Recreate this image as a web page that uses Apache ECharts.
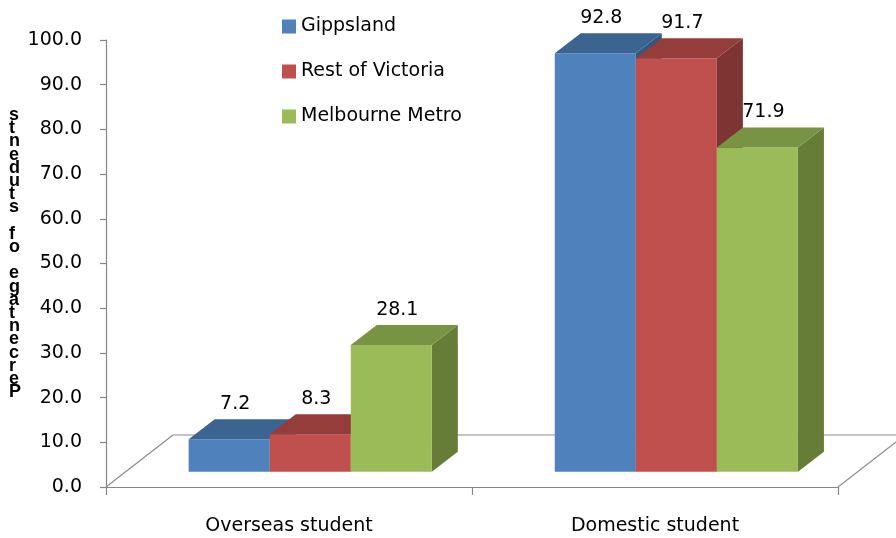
<!DOCTYPE html>
<html>
<head>
<meta charset="utf-8">
<script src="https://cdn.jsdelivr.net/npm/echarts@6/dist/echarts.min.js"></script>
<style>html,body{margin:0;padding:0;background:#fff}#c{width:896px;height:538px}</style>
</head>
<body>
<div id="c"></div>
<script>
const categories = ['Overseas student', 'Domestic student'];
const seriesNames = ['Gippsland', 'Rest of Victoria', 'Melbourne Metro'];
const gippsland = [7.2, 92.8];
const restOfVictoria = [8.3, 91.7];
const melbourneMetro = [28.1, 71.9];
const yMin = 0, yMax = 100, yInterval = 10;
const yTitle = 'Percentage of students';

const FONT = '"DejaVu Sans", sans-serif';
const palettes = [
  {front: '#4F81BD', top: '#3C6491', side: '#345780'},
  {front: '#C0504D', top: '#943D3B', side: '#7E3432'},
  {front: '#9BBB59', top: '#789343', side: '#667D38'}
];
const DX = 26, DY = -20;

function barSeries(si, values) {
  const pal = palettes[si];
  return {
    type: 'custom', name: seriesNames[si], xAxisIndex: 1, yAxisIndex: 1,
    itemStyle: {color: pal.front},
    data: values.map((v, i) => [i, v]),
    clip: false,
    renderItem: function (params, api) {
      const ci = api.value(0), v = api.value(1);
      const top = api.coord([ci, v]);
      const bot = api.coord([ci, 0]);
      const band = api.size([1, 0])[0];
      const w = band * 0.2214;
      const x0 = top[0] - 1.5 * w + si * w, x1 = x0 + w;
      const yt = top[1], yb = bot[1];
      return {
        type: 'group',
        children: [
          {type: 'polygon', shape: {points: [[x1, yt], [x1 + DX, yt + DY], [x1 + DX, yb + DY], [x1, yb]]}, style: {fill: pal.side}},
          {type: 'rect', shape: {x: x0, y: yt, width: w, height: yb - yt}, style: {fill: pal.front}},
          {type: 'polygon', shape: {points: [[x0, yt], [x1, yt], [x1 + DX, yt + DY], [x0 + DX, yt + DY]]}, style: {fill: pal.top}},
          {type: 'text', x: (x0 + x1) / 2 + 6, y: yt + DY - 15,
            style: {text: v.toFixed(1), font: '19px ' + FONT, fill: '#000', align: 'center', verticalAlign: 'middle'}}
        ]
      };
    }
  };
}

const floorSeries = {
  type: 'custom', xAxisIndex: 0, yAxisIndex: 0, silent: true, clip: false, z: 1,
  data: [[0, 0]],
  renderItem: function (params, api) {
    const band = api.size([1, 0])[0];
    const c0 = api.coord([0, 0]);
    const left = c0[0] - band / 2, right = left + 2 * band, y0 = c0[1];
    const ddx = 67, ddy = -52;
    const ls = {stroke: '#8C8C8C', lineWidth: 1.2, fill: null};
    return {
      type: 'group',
      children: [
        {type: 'line', shape: {x1: left, y1: y0, x2: left + ddx, y2: y0 + ddy}, style: ls},
        {type: 'line', shape: {x1: left + ddx, y1: y0 + ddy, x2: right + ddx + 40, y2: y0 + ddy}, style: ls},
        {type: 'line', shape: {x1: right, y1: y0, x2: right + ddx, y2: y0 + ddy}, style: ls}
      ]
    };
  }
};

const chart = echarts.init(document.getElementById('c'), null, {renderer: 'canvas'});
chart.setOption({
  animation: false,
  backgroundColor: '#fff',
  legend: {
    orient: 'vertical', left: 277, top: 12, itemGap: 26, itemWidth: 14, itemHeight: 14,
    icon: 'rect', data: seriesNames,
    textStyle: {fontFamily: FONT, fontSize: 19, color: '#000'}
  },
  grid: [
    {left: 106, right: 58, top: 40, bottom: 51},
    {left: 127.2, right: 36.6, top: 20.7, bottom: 66.3}
  ],
  xAxis: [
    {type: 'category', gridIndex: 0, data: categories,
      axisLine: {lineStyle: {color: '#868686', width: 1.2}},
      axisTick: {show: true, length: 8, lineStyle: {color: '#868686', width: 1.2}},
      axisLabel: {margin: 30, fontFamily: FONT, fontSize: 19, color: '#000'}},
    {type: 'category', gridIndex: 1, data: categories, show: false}
  ],
  yAxis: [
    {type: 'value', gridIndex: 0, min: yMin, max: yMax, interval: yInterval,
      axisLine: {show: true, lineStyle: {color: '#868686', width: 1.2}},
      axisTick: {show: true, length: 6, lineStyle: {color: '#868686', width: 1.2}},
      splitLine: {show: false},
      axisLabel: {margin: 24, fontFamily: FONT, fontSize: 19, color: '#000', formatter: v => v.toFixed(1)}},
    {type: 'value', gridIndex: 1, min: yMin, max: yMax, show: false, splitLine: {show: false}}
  ],
  graphic: [{
    type: 'text', left: 9, top: 106,
    style: {text: yTitle.split('').reverse().join('\n'), font: 'bold 18px "Liberation Sans", sans-serif',
      lineHeight: 13.2, fill: '#000', align: 'center'}
  }],
  series: [floorSeries, barSeries(0, gippsland), barSeries(1, restOfVictoria), barSeries(2, melbourneMetro)]
});
</script>
</body>
</html>
